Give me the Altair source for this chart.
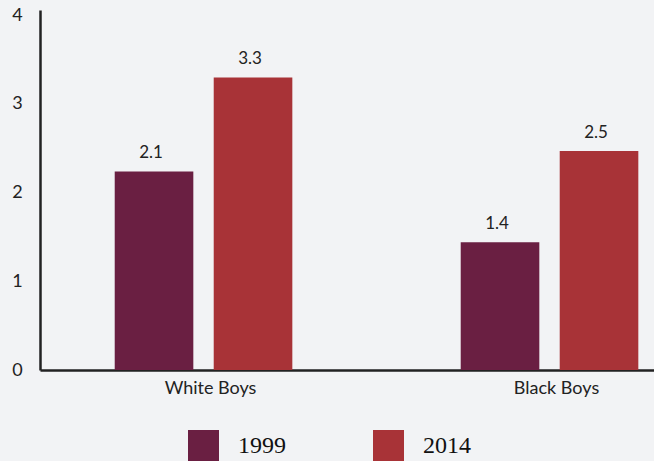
import altair as alt
import pandas as pd

groups = ["White Boys", "Black Boys"]
years = ["1999", "2014"]
# bar heights as drawn in the picture
values_1999 = [2.24, 1.44]
values_2014 = [3.3, 2.47]
# printed labels above the bars
labels_1999 = ["2.1", "1.4"]
labels_2014 = ["3.3", "2.5"]
colors = ["#6a1f42", "#a83337"]

rows = []
for i, g in enumerate(groups):
    rows.append({"group": g, "year": years[0], "value": values_1999[i], "label": labels_1999[i]})
    rows.append({"group": g, "year": years[1], "value": values_2014[i], "label": labels_2014[i]})
df = pd.DataFrame(rows)

x_enc = alt.X("group:N", sort=groups, title=None,
              scale=alt.Scale(paddingInner=0.422, paddingOuter=0.0983, align=0.934),
              axis=alt.Axis(labelAngle=0, ticks=False, domainColor="#222222", domainWidth=2.5,
                            labelFont="Lato", labelFontSize=18, labelColor="#222222",
                            labelPadding=9, labelOffset=7))
xo_enc = alt.XOffset("year:N", sort=years,
                     scale=alt.Scale(paddingInner=0.206, paddingOuter=0.113))
y_enc = alt.Y("value:Q", title=None,
              scale=alt.Scale(domain=[0, 4.06], nice=False),
              axis=alt.Axis(values=[0, 1, 2, 3, 4], format="d", ticks=False, grid=False,
                            domainColor="#222222", domainWidth=2.5,
                            labelFont="Lato", labelFontSize=18, labelColor="#222222",
                            labelAlign="center", labelPadding=23))

bars = alt.Chart(df).mark_bar().encode(
    x=x_enc,
    xOffset=xo_enc,
    y=y_enc,
    color=alt.Color("year:N", sort=years, title=None,
                    scale=alt.Scale(domain=years, range=colors),
                    legend=alt.Legend(orient="none", legendX=148, legendY=420,
                                      direction="horizontal", symbolType="square",
                                      symbolSize=961, symbolStrokeWidth=0,
                                      symbolOpacity=1, labelFont="Liberation Serif",
                                      labelFontSize=24, labelColor="#111111",
                                      labelOffset=19, columnPadding=87, padding=0)),
)

text = alt.Chart(df).mark_text(baseline="bottom", dy=-9, dx=-3, font="Lato",
                               fontSize=17, color="#222222").encode(
    x=alt.X("group:N", sort=groups),
    xOffset=alt.XOffset("year:N", sort=years),
    y=alt.Y("value:Q"),
    text="label:N",
)

chart = alt.layer(bars, text).properties(
    width=614, height=360,
    background="#f2f3f5",
    padding={"left": 40, "top": 10, "right": 0, "bottom": 91},
    autosize=alt.AutoSizeParams(type="none"),
).configure_view(stroke=None)

chart.save("out.html", embed_options={"renderer": "svg", "actions": False})
